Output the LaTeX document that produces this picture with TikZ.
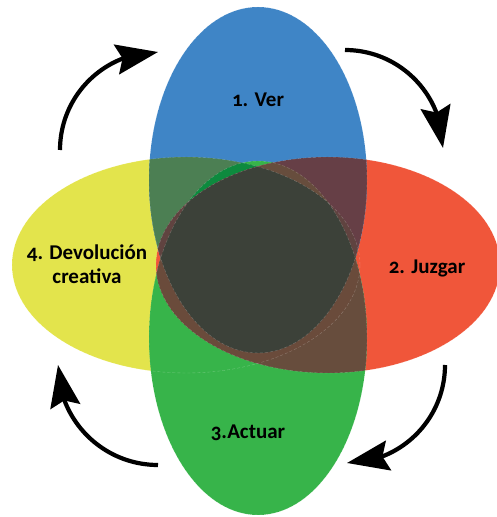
\documentclass[tikz,border=0pt]{standalone}
\usepackage{fontspec}
\setmainfont{Carlito}[Numbers=OldStyle]
\usepackage{tikz}
\usetikzlibrary{arrows.meta, bending, positioning}

\definecolor{colY}{HTML}{E3E44C}
\definecolor{colR}{HTML}{F0563A}
\definecolor{colB}{HTML}{3F85C6}
\definecolor{colG}{HTML}{37B44A}
\definecolor{colBY}{HTML}{4C7F53}
\definecolor{colBR}{HTML}{663F46}
\definecolor{colGR}{HTML}{674D3D}
\definecolor{colBGY}{HTML}{0D8A3E}
\definecolor{colYRG}{HTML}{6A4B3B}
\definecolor{colYRB}{HTML}{604340}
\definecolor{colMid}{HTML}{3C4139}

% the four petals
\def\petalVer{(258,337) ellipse [x radius=109, y radius=173]}
\def\petalJuz{(328,252) ellipse [x radius=172, y radius=108]}
\def\petalAct{(258,179) ellipse [x radius=109, y radius=177]}
\def\petalDev{(186,252) ellipse [x radius=174, y radius=108]}

\tikzset{
  phase/.style={font=\bfseries\fontsize{21}{24}\selectfont, text=black, align=center},
  turn/.style={line width=4.2pt, -{Stealth[length=42pt, width=30pt, inset=6pt, flex]}},
  seam/.style={white, opacity=0.25, line width=0.4pt, dash pattern=on 3pt off 2pt}
}

\begin{document}
\begin{tikzpicture}[x=1pt, y=1pt]
\useasboundingbox (0,0) rectangle (497,517);

% base petals
\fill[colY] \petalDev;
\fill[colR] \petalJuz;
\fill[colB] \petalVer;
\fill[colG] \petalAct;

% overlaps of two
\begin{scope}\clip \petalVer; \fill[colBY] \petalDev; \end{scope}
\begin{scope}\clip \petalVer; \fill[colBR] \petalJuz; \end{scope}
\begin{scope}\clip \petalAct; \fill[colGR] \petalJuz; \end{scope}

% overlaps of three
\begin{scope}\clip \petalVer; \clip \petalAct; \fill[colBGY] \petalDev; \end{scope}
\begin{scope}\clip \petalDev; \clip \petalJuz; \fill[colYRG] \petalAct; \end{scope}
\begin{scope}\clip \petalDev; \clip \petalJuz; \fill[colYRB] \petalVer; \end{scope}
\begin{scope}\clip \petalVer; \clip \petalAct; \fill[colGR] \petalJuz; \end{scope}

% overlap of all four
\begin{scope}
  \clip \petalVer; \clip \petalAct; \clip \petalDev;
  \fill[colMid] \petalJuz;
\end{scope}

% faint seams
\draw[seam] \petalVer;
\draw[seam] \petalJuz;
\draw[seam] \petalAct;
\draw[seam] \petalDev;

% labels
\node[phase] (ver) at (258,417) {1. Ver};
\node[phase] (juzgar) at (427,249) {2. Juzgar};
\node[phase] (actuar) at (248,84) {3.Actuar};
\node[phase] (devol) at (87,253) {4. Devolución\\creativa};

% cycle arrows
\coordinate (tl) at (60,367);
\coordinate (tr) at (345,467);
\coordinate (br) at (445,152);
\coordinate (bl) at (158,52);
\draw[turn] (tl) arc[start angle=180, end angle=90, radius=98];
\draw[turn] (tr) arc[start angle=90, end angle=0, radius=98];
\draw[turn] (br) arc[start angle=0, end angle=-90, radius=98];
\draw[turn] (bl) arc[start angle=270, end angle=180, radius=100];
\end{tikzpicture}
\end{document}
